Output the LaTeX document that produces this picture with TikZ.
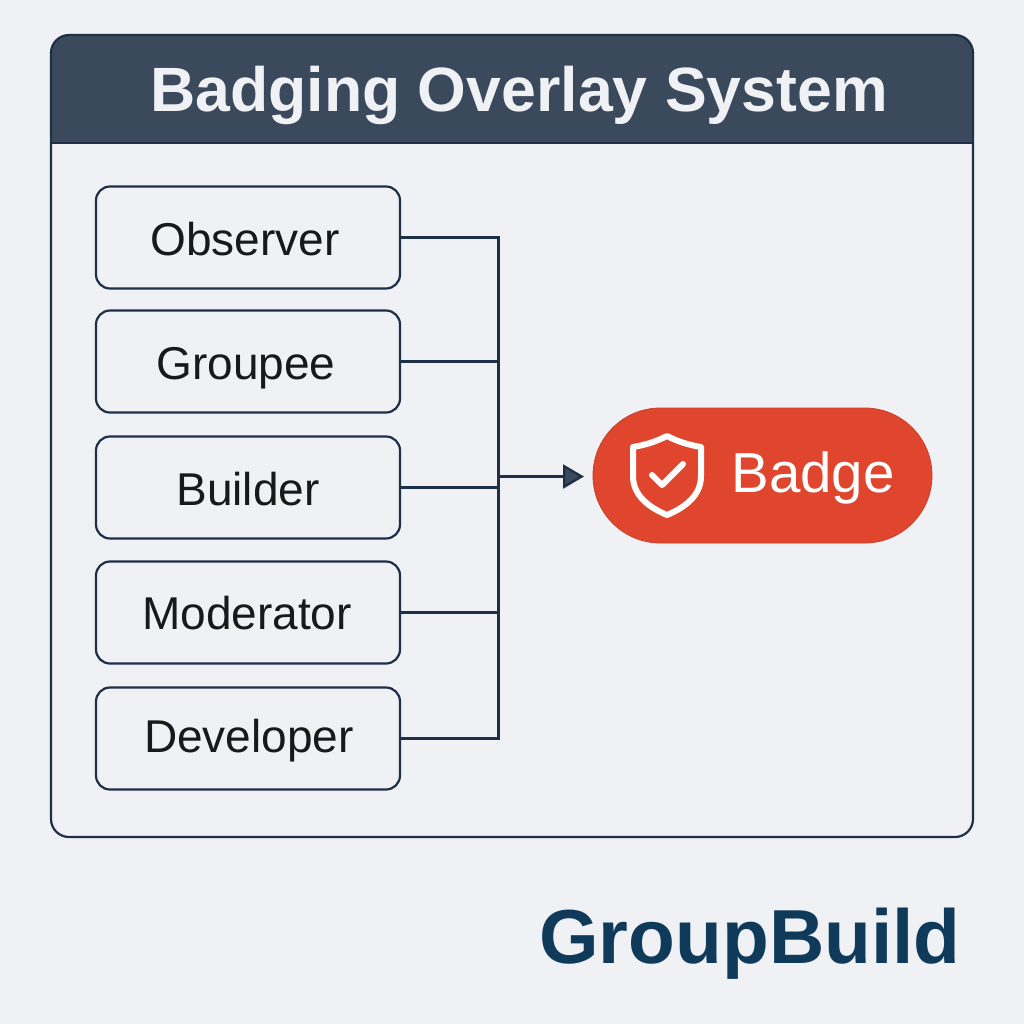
\documentclass[tikz,border=0pt]{standalone}
\usepackage{fontspec}
\setmainfont{Liberation Sans}
\usetikzlibrary{arrows.meta,calc}
\definecolor{bgc}{HTML}{F0F1F5}
\definecolor{headc}{HTML}{3A4A5C}
\definecolor{linec}{HTML}{1E3048}
\definecolor{redc}{HTML}{E0452E}
\definecolor{brandc}{HTML}{0F3A5A}
\tikzset{
  role/.style={draw=linec,line width=1.1pt,rounded corners=7pt,minimum width=152pt,minimum height=51pt,inner sep=0pt,fill=bgc},
  rolelabel/.style={font=\fontsize{23}{26}\selectfont,text=black!90,inner sep=0pt,anchor=base},
  wire/.style={draw=linec,line width=1.15pt},
  pill/.style={fill=redc,draw=redc!90!black,line width=.4pt,rounded corners=33.7pt,minimum width=169.5pt,minimum height=67.5pt,inner sep=0pt},
  icon/.style={draw=white,line width=3pt,line join=round,line cap=round},
}
\begin{document}
\begin{tikzpicture}[x=0.5pt,y=-0.5pt]
\useasboundingbox[fill=bgc] (0,0) rectangle (1024,1024);
% panel
\begin{scope}
\clip[rounded corners=9pt] (51,35) rectangle (973,837);
\fill[headc] (51,35) rectangle (973,143);
\end{scope}
\draw[linec,line width=1.1pt,rounded corners=9pt] (51,35) rectangle (973,837);
\draw[linec,line width=1.1pt] (51,143) -- (973,143);
\node[inner sep=0pt,anchor=base,text=bgc,font=\bfseries\fontsize{31.3}{34}\selectfont] (title) at (519,111) {Badging Overlay System};
% roles
\node[role] (obs) at (248,237.5) {};
\node[role] (grp) at (248,361.5) {};
\node[role] (bld) at (248,487.5) {};
\node[role] (mod) at (248,612.5) {};
\node[role] (dev) at (248,738.5) {};
\node[rolelabel] (obst) at (245,255) {Observer};
\node[rolelabel] (grpt) at (246,379) {Groupee};
\node[rolelabel] (bldt) at (248,505) {Builder};
\node[rolelabel] (modt) at (247,629) {Moderator};
\node[rolelabel] (devt) at (249,752) {Developer};
% badge
\node[pill] (badge) at (762.5,475.5) {};
\node[inner sep=0pt,anchor=base,text=white,font=\fontsize{28.2}{32}\selectfont] (badget) at (813,492) {Badge};
\draw[icon] (667,436) .. controls (655,442) and (645,445) .. (633,447) -- (633,476) .. controls (633,495) and (648,507) .. (667,515) .. controls (686,507) and (701,495) .. (701,476) -- (701,447) .. controls (689,445) and (679,442) .. (667,436) -- cycle;
\draw[icon] (652,475) -- (662,485) -- (683,464);
% connectors
\coordinate (bustop) at (498.5,237.5);
\coordinate (busbot) at (498.5,738.5);
\coordinate (busout) at (498.5,476.5);
\coordinate (arrowend) at (584,476.5);
\draw[wire] (obs.east) -- (bustop) -- (busbot) -- (dev.east);
\draw[wire] (grp.east) -- (grp.east -| bustop);
\draw[wire] (bld.east) -- (bld.east -| bustop);
\draw[wire] (mod.east) -- (mod.east -| bustop);
\draw[wire,-{Triangle[length=10.5pt,width=12pt,fill=headc]}] (busout) -- (arrowend);
% brand
\node[inner sep=0pt,anchor=base,text=brandc,font=\bfseries\fontsize{38.3}{42}\selectfont] (brand) at (750,963) {GroupBuild};
\end{tikzpicture}
\end{document}
